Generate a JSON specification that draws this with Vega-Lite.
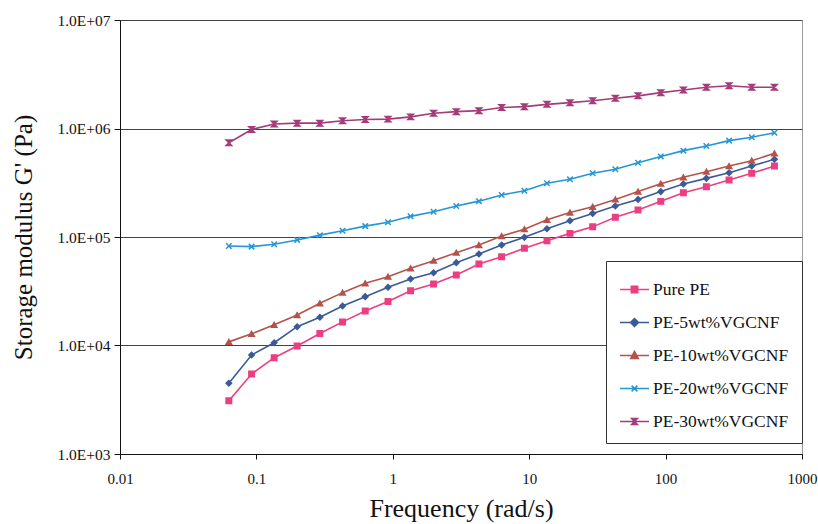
{
  "$schema": "https://vega.github.io/schema/vega-lite/v6.json",
  "width": 682,
  "height": 434,
  "autosize": {"type": "none"},
  "padding": {"left": 120, "top": 20, "right": 16, "bottom": 70},
  "background": "white",
  "config": {
    "view": {"stroke": "#9a9a9a", "strokeWidth": 1},
    "font": "Liberation Serif",
    "axis": {"labelFont": "Liberation Serif", "titleFont": "Liberation Serif", "labelColor": "#111", "titleColor": "#111", "titleFontWeight": "normal", "domainColor": "#111", "tickColor": "#111"},
    "legend": {"title": null, "orient": "none", "legendX": 486, "legendY": 241, "labelFont": "Liberation Serif", "labelFontSize": 17.5, "labelColor": "#111", "strokeColor": "#333", "fillColor": "white", "padding": 13, "rowPadding": 9, "symbolSize": 841, "symbolStrokeWidth": 1.5, "symbolOpacity": 1, "labelOffset": 3, "cornerRadius": 0}
  },
  "data": {"values": [
    {"s":"Pure PE","f":0.0628,"g":3100},{"s":"Pure PE","f":0.0922,"g":5460},{"s":"Pure PE","f":0.135,"g":7720},{"s":"Pure PE","f":0.199,"g":9900},{"s":"Pure PE","f":0.292,"g":12900},{"s":"Pure PE","f":0.428,"g":16500},{"s":"Pure PE","f":0.628,"g":20800},{"s":"Pure PE","f":0.922,"g":25400},{"s":"Pure PE","f":1.35,"g":32000},{"s":"Pure PE","f":1.99,"g":36900},{"s":"Pure PE","f":2.92,"g":44700},{"s":"Pure PE","f":4.28,"g":56400},{"s":"Pure PE","f":6.28,"g":65800},{"s":"Pure PE","f":9.22,"g":78700},{"s":"Pure PE","f":13.5,"g":92500},{"s":"Pure PE","f":19.9,"g":108000},{"s":"Pure PE","f":29.2,"g":124000},{"s":"Pure PE","f":42.8,"g":152000},{"s":"Pure PE","f":62.8,"g":177000},{"s":"Pure PE","f":92.2,"g":213000},{"s":"Pure PE","f":135,"g":256000},{"s":"Pure PE","f":199,"g":291000},{"s":"Pure PE","f":292,"g":335000},{"s":"Pure PE","f":428,"g":386000},{"s":"Pure PE","f":628,"g":451000},
    {"s":"PE-5wt%VGCNF","f":0.0628,"g":4490},{"s":"PE-5wt%VGCNF","f":0.0922,"g":8170},{"s":"PE-5wt%VGCNF","f":0.135,"g":10600},{"s":"PE-5wt%VGCNF","f":0.199,"g":14900},{"s":"PE-5wt%VGCNF","f":0.292,"g":18200},{"s":"PE-5wt%VGCNF","f":0.428,"g":23100},{"s":"PE-5wt%VGCNF","f":0.628,"g":28200},{"s":"PE-5wt%VGCNF","f":0.922,"g":34400},{"s":"PE-5wt%VGCNF","f":1.35,"g":41000},{"s":"PE-5wt%VGCNF","f":1.99,"g":46900},{"s":"PE-5wt%VGCNF","f":2.92,"g":58000},{"s":"PE-5wt%VGCNF","f":4.28,"g":69700},{"s":"PE-5wt%VGCNF","f":6.28,"g":84300},{"s":"PE-5wt%VGCNF","f":9.22,"g":99300},{"s":"PE-5wt%VGCNF","f":13.5,"g":119000},{"s":"PE-5wt%VGCNF","f":19.9,"g":141000},{"s":"PE-5wt%VGCNF","f":29.2,"g":165000},{"s":"PE-5wt%VGCNF","f":42.8,"g":193000},{"s":"PE-5wt%VGCNF","f":62.8,"g":222000},{"s":"PE-5wt%VGCNF","f":92.2,"g":262000},{"s":"PE-5wt%VGCNF","f":135,"g":308000},{"s":"PE-5wt%VGCNF","f":199,"g":347000},{"s":"PE-5wt%VGCNF","f":292,"g":391000},{"s":"PE-5wt%VGCNF","f":428,"g":451000},{"s":"PE-5wt%VGCNF","f":628,"g":520000},
    {"s":"PE-10wt%VGCNF","f":0.0628,"g":10800},{"s":"PE-10wt%VGCNF","f":0.0922,"g":12800},{"s":"PE-10wt%VGCNF","f":0.135,"g":15500},{"s":"PE-10wt%VGCNF","f":0.199,"g":19100},{"s":"PE-10wt%VGCNF","f":0.292,"g":24500},{"s":"PE-10wt%VGCNF","f":0.428,"g":30700},{"s":"PE-10wt%VGCNF","f":0.628,"g":37400},{"s":"PE-10wt%VGCNF","f":0.922,"g":43100},{"s":"PE-10wt%VGCNF","f":1.35,"g":51400},{"s":"PE-10wt%VGCNF","f":1.99,"g":60500},{"s":"PE-10wt%VGCNF","f":2.92,"g":71700},{"s":"PE-10wt%VGCNF","f":4.28,"g":84300},{"s":"PE-10wt%VGCNF","f":6.28,"g":102000},{"s":"PE-10wt%VGCNF","f":9.22,"g":118000},{"s":"PE-10wt%VGCNF","f":13.5,"g":144000},{"s":"PE-10wt%VGCNF","f":19.9,"g":168000},{"s":"PE-10wt%VGCNF","f":29.2,"g":190000},{"s":"PE-10wt%VGCNF","f":42.8,"g":222000},{"s":"PE-10wt%VGCNF","f":62.8,"g":262000},{"s":"PE-10wt%VGCNF","f":92.2,"g":310000},{"s":"PE-10wt%VGCNF","f":135,"g":355000},{"s":"PE-10wt%VGCNF","f":199,"g":400000},{"s":"PE-10wt%VGCNF","f":292,"g":451000},{"s":"PE-10wt%VGCNF","f":428,"g":505000},{"s":"PE-10wt%VGCNF","f":628,"g":590000},
    {"s":"PE-20wt%VGCNF","f":0.0628,"g":82600},{"s":"PE-20wt%VGCNF","f":0.0922,"g":81500},{"s":"PE-20wt%VGCNF","f":0.135,"g":85700},{"s":"PE-20wt%VGCNF","f":0.199,"g":94000},{"s":"PE-20wt%VGCNF","f":0.292,"g":104000},{"s":"PE-20wt%VGCNF","f":0.428,"g":114000},{"s":"PE-20wt%VGCNF","f":0.628,"g":126000},{"s":"PE-20wt%VGCNF","f":0.922,"g":137000},{"s":"PE-20wt%VGCNF","f":1.35,"g":155000},{"s":"PE-20wt%VGCNF","f":1.99,"g":171000},{"s":"PE-20wt%VGCNF","f":2.92,"g":193000},{"s":"PE-20wt%VGCNF","f":4.28,"g":214000},{"s":"PE-20wt%VGCNF","f":6.28,"g":244000},{"s":"PE-20wt%VGCNF","f":9.22,"g":267000},{"s":"PE-20wt%VGCNF","f":13.5,"g":313000},{"s":"PE-20wt%VGCNF","f":19.9,"g":340000},{"s":"PE-20wt%VGCNF","f":29.2,"g":387000},{"s":"PE-20wt%VGCNF","f":42.8,"g":421000},{"s":"PE-20wt%VGCNF","f":62.8,"g":484000},{"s":"PE-20wt%VGCNF","f":92.2,"g":553000},{"s":"PE-20wt%VGCNF","f":135,"g":625000},{"s":"PE-20wt%VGCNF","f":199,"g":690000},{"s":"PE-20wt%VGCNF","f":292,"g":773000},{"s":"PE-20wt%VGCNF","f":428,"g":830000},{"s":"PE-20wt%VGCNF","f":628,"g":915000},
    {"s":"PE-30wt%VGCNF","f":0.0628,"g":740000},{"s":"PE-30wt%VGCNF","f":0.0922,"g":980000},{"s":"PE-30wt%VGCNF","f":0.135,"g":1100000},{"s":"PE-30wt%VGCNF","f":0.199,"g":1120000},{"s":"PE-30wt%VGCNF","f":0.292,"g":1120000},{"s":"PE-30wt%VGCNF","f":0.428,"g":1180000},{"s":"PE-30wt%VGCNF","f":0.628,"g":1210000},{"s":"PE-30wt%VGCNF","f":0.922,"g":1220000},{"s":"PE-30wt%VGCNF","f":1.35,"g":1280000},{"s":"PE-30wt%VGCNF","f":1.99,"g":1380000},{"s":"PE-30wt%VGCNF","f":2.92,"g":1430000},{"s":"PE-30wt%VGCNF","f":4.28,"g":1460000},{"s":"PE-30wt%VGCNF","f":6.28,"g":1560000},{"s":"PE-30wt%VGCNF","f":9.22,"g":1590000},{"s":"PE-30wt%VGCNF","f":13.5,"g":1670000},{"s":"PE-30wt%VGCNF","f":19.9,"g":1730000},{"s":"PE-30wt%VGCNF","f":29.2,"g":1800000},{"s":"PE-30wt%VGCNF","f":42.8,"g":1900000},{"s":"PE-30wt%VGCNF","f":62.8,"g":2000000},{"s":"PE-30wt%VGCNF","f":92.2,"g":2140000},{"s":"PE-30wt%VGCNF","f":135,"g":2260000},{"s":"PE-30wt%VGCNF","f":199,"g":2400000},{"s":"PE-30wt%VGCNF","f":292,"g":2480000},{"s":"PE-30wt%VGCNF","f":428,"g":2400000},{"s":"PE-30wt%VGCNF","f":628,"g":2400000}
  ]},
  "encoding": {
    "x": {"field": "f", "type": "quantitative", "title": "Frequency (rad/s)",
      "scale": {"type": "log", "domain": [0.01, 1000], "nice": false},
      "axis": {"values": [0.01, 0.1, 1, 10, 100, 1000], "format": "~g", "grid": false, "labelFontSize": 15, "titleFontSize": 26, "tickSize": 5, "labelPadding": 12, "titlePadding": 9, "labelFlush": false}},
    "y": {"field": "g", "type": "quantitative", "title": "Storage modulus G' (Pa)",
      "scale": {"type": "log", "domain": [1000, 10000000], "nice": false},
      "axis": {"values": [1000, 10000, 100000, 1000000, 10000000], "labelExpr": "'1.0E+0' + round(log(datum.value)/LN10)", "grid": true, "gridColor": "#444", "gridWidth": 1.2, "gridOpacity": 1, "labelFontSize": 15.5, "titleFontSize": 25, "tickSize": 6, "labelPadding": 4, "titlePadding": 20, "labelFlush": false}}
  },
  "layer": [
    {
      "mark": {"type": "line", "strokeWidth": 1.6},
      "encoding": {
        "color": {"field": "s", "type": "nominal", "legend": null,
          "scale": {"domain": ["Pure PE", "PE-5wt%VGCNF", "PE-10wt%VGCNF", "PE-20wt%VGCNF", "PE-30wt%VGCNF"], "range": ["#EC3E80", "#3B5A98", "#B5524B", "#2496D6", "#A33C78"]}},
        "order": {"field": "f", "type": "quantitative"}
      }
    },
    {
      "mark": {"type": "point", "filled": false, "size": 30, "strokeWidth": 1.5, "opacity": 1},
      "encoding": {
        "color": {"field": "s", "type": "nominal", "legend": null,
          "scale": {"domain": ["Pure PE", "PE-5wt%VGCNF", "PE-10wt%VGCNF", "PE-20wt%VGCNF", "PE-30wt%VGCNF"], "range": ["#EC3E80", "#3B5A98", "#B5524B", "#2496D6", "#A33C78"]}},
        "fill": {"field": "s", "type": "nominal", "legend": null,
          "scale": {"domain": ["Pure PE", "PE-5wt%VGCNF", "PE-10wt%VGCNF", "PE-20wt%VGCNF", "PE-30wt%VGCNF"], "range": ["#EC3E80", "#3B5A98", "#B5524B", "#2496D6", "#A33C78"]}},
        "shape": {"field": "s", "type": "nominal", "legend": null,
          "scale": {"domain": ["Pure PE", "PE-5wt%VGCNF", "PE-10wt%VGCNF", "PE-20wt%VGCNF", "PE-30wt%VGCNF"], "range": ["square", "diamond", "triangle-up", "M-1,-1L1,1M-1,1L1,-1", "M-1,-1L1,-1L-1,1L1,1Z"]}}
      }
    },
    {
      "mark": {"type": "point", "filled": false, "size": 841, "strokeWidth": 1.5, "opacity": 0},
      "encoding": {
        "color": {"field": "s", "type": "nominal",
          "scale": {"domain": ["Pure PE", "PE-5wt%VGCNF", "PE-10wt%VGCNF", "PE-20wt%VGCNF", "PE-30wt%VGCNF"], "range": ["#EC3E80", "#3B5A98", "#B5524B", "#2496D6", "#A33C78"]}},
        "fill": {"field": "s", "type": "nominal",
          "scale": {"domain": ["Pure PE", "PE-5wt%VGCNF", "PE-10wt%VGCNF", "PE-20wt%VGCNF", "PE-30wt%VGCNF"], "range": ["#EC3E80", "#3B5A98", "#B5524B", "#2496D6", "#A33C78"]}},
        "shape": {"field": "s", "type": "nominal",
          "scale": {"domain": ["Pure PE", "PE-5wt%VGCNF", "PE-10wt%VGCNF", "PE-20wt%VGCNF", "PE-30wt%VGCNF"], "range": ["M-1,0L1,0M-0.22,-0.22L0.22,-0.22L0.22,0.22L-0.22,0.22Z", "M-1,0L1,0M-0.28,0L0,-0.28L0.28,0L0,0.28Z", "M-1,0L1,0M0,-0.28L0.26,0.2L-0.26,0.2Z", "M-1,0L1,0M-0.2,-0.2L0.2,0.2M-0.2,0.2L0.2,-0.2", "M-1,0L1,0M-0.2,-0.2L0.2,-0.2L-0.2,0.2L0.2,0.2Z"]}}
      }
    }
  ],
  "resolve": {"scale": {"color": "independent", "fill": "independent", "shape": "independent"}, "legend": {"color": "independent", "fill": "independent", "shape": "independent"}}
}
